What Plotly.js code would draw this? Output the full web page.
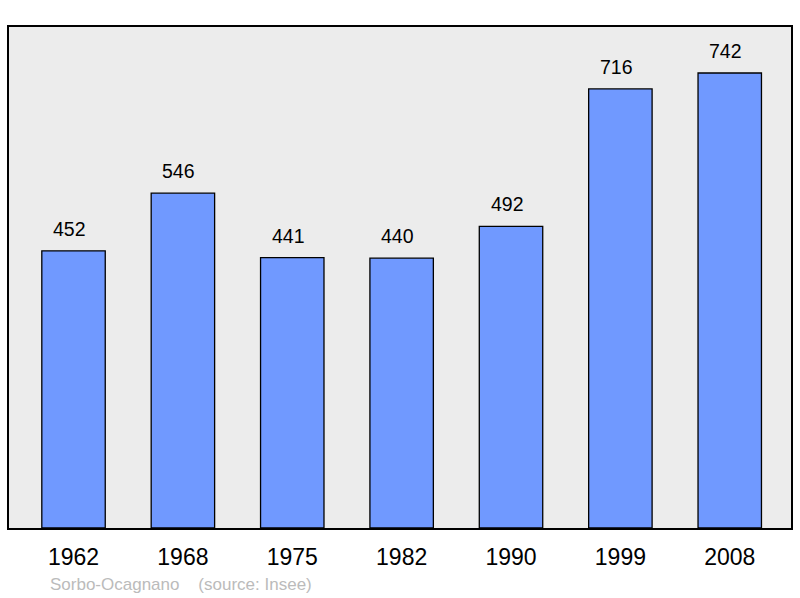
<!DOCTYPE html>
<html><head><meta charset="utf-8">
<script src="https://cdn.plot.ly/plotly-3.0.1.min.js"></script>
<style>html,body{margin:0;padding:0;background:#fff;}#chart{width:800px;height:598px;}</style>
</head><body><div id="chart"></div>
<script>
var years = ['1962','1968','1975','1982','1990','1999','2008'];
var population = [452, 546, 441, 440, 492, 716, 742];
var footer = 'Sorbo-Ocagnano&nbsp;&nbsp;&nbsp;&nbsp;(source: Insee)';

var trace = {
  type: 'bar', x: years, y: population,
  width: 0.58,
  marker: {color: '#7099ff', line: {color: '#000', width: 1.3}},
  hoverinfo: 'none'
};
var annotations = years.map(function(yr, i){
  return {x: i, y: population[i], xref: 'x', yref: 'y', text: String(population[i]),
    showarrow: false, yanchor: 'middle', yshift: 22, xshift: -4,
    font: {family: 'Liberation Sans, Arial, sans-serif', size: 19.5, color: '#000'}};
});
annotations.push({xref: 'paper', yref: 'paper', x: 0.05, y: -0.112, xanchor: 'left', yanchor: 'middle',
  text: footer, showarrow: false, font: {family: 'Liberation Sans, Arial, sans-serif', size: 17, color: '#bbbbbb'}});

var layout = {
  width: 800, height: 598,
  margin: {l: 9, r: 9, t: 27, b: 70},
  paper_bgcolor: '#fff', plot_bgcolor: '#ececec',
  showlegend: false,
  xaxis: {type: 'category', range: [-0.59, 6.56], showgrid: false, zeroline: false,
    showline: true, mirror: true, linecolor: '#000', linewidth: 2,
    ticks: 'outside', ticklen: 7, tickcolor: 'rgba(0,0,0,0)',
    tickfont: {family: 'Liberation Sans, Arial, sans-serif', size: 23, color: '#000'}},
  yaxis: {range: [0, 817], showgrid: false, zeroline: false, showticklabels: false,
    showline: true, mirror: true, linecolor: '#000', linewidth: 2},
  annotations: annotations
};
Plotly.newPlot('chart', [trace], layout, {staticPlot: true});
</script></body></html>
